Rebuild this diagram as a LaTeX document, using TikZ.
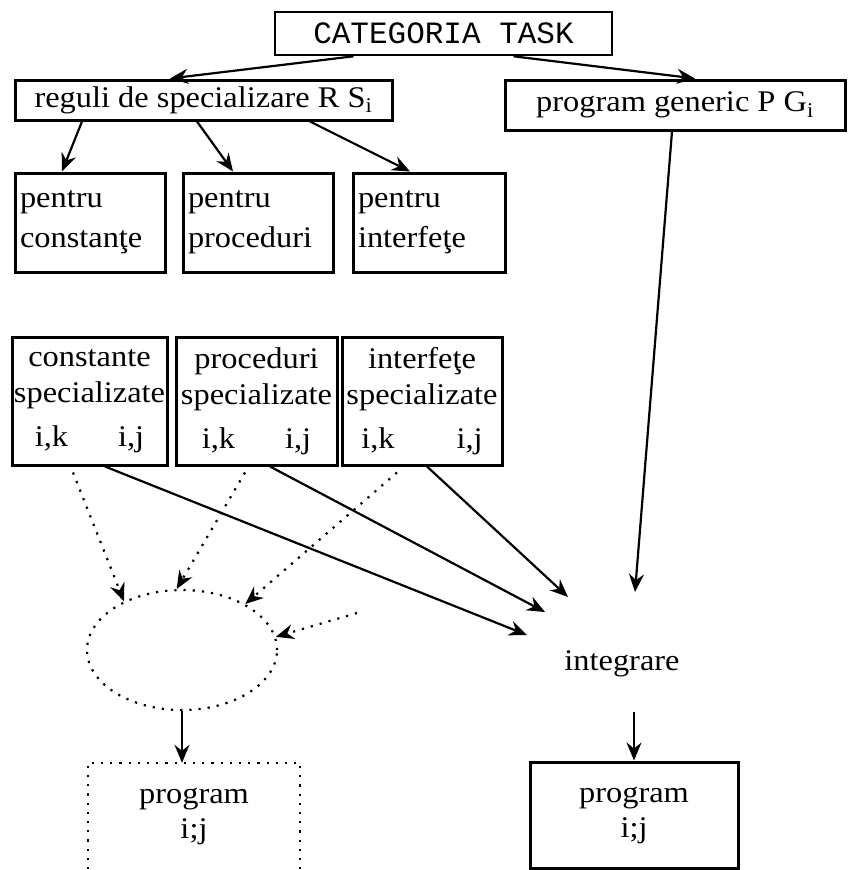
\documentclass[tikz,border=0pt]{standalone}
\usepackage{fontspec}
\setmainfont{Liberation Serif}[FakeStretch=1.08]
\setmonofont{Liberation Mono}
\usetikzlibrary{arrows.meta,shapes.geometric}
\begin{document}
\begin{tikzpicture}[x=1pt,y=-1pt,
  every node/.style={font=\fontsize{30}{36}\selectfont},
  box/.style={draw,line width=3pt,inner sep=0pt},
  arr/.style={line width=2.2pt,-{Stealth[length=18pt,width=15pt,inset=6pt]}},
  dotline/.style={line width=2.2pt,dash pattern=on 2.2pt off 7pt},
  darr/.style={dotline,-{Stealth[length=18pt,width=15pt,inset=6pt]}},
  lbox/.style={box,text width=140pt,inner xsep=5pt,minimum height=99pt,align=left,font=\fontsize{30}{40}\selectfont},
  sbox/.style={box,inner xsep=1pt,minimum height=128pt,align=center,font=\fontsize{30}{36}\selectfont}
]
\useasboundingbox (0,0) rectangle (852,870);

% top
\node[box,line width=2.6pt,minimum width=337pt,minimum height=43pt,font=\ttfamily\fontsize{31}{34}\selectfont] (cat) at (443.5,33.5) {CATEGORIA TASK};
\node[box,minimum width=377pt,minimum height=40pt] (reg) at (203.5,100) {reguli de specializare R S\textsubscript{i}};
\node[box,minimum width=340pt,minimum height=50pt] (pg) at (675,105) {program generic P G\textsubscript{i}};

% pentru boxes
\node[lbox] (p1) at (90,222.5) {pentru\\constanţe};
\node[lbox] (p2) at (258,222.5) {pentru\\proceduri};
\node[lbox,text width=142pt] (p3) at (429,222.5) {pentru\\interfeţe};

% specialised boxes
\node[sbox,minimum width=155pt] (s1) at (89.5,401) {constante\\specializate\\[8pt]i,k\hspace{50pt}i,j};
\node[sbox,minimum width=161pt] (s2) at (256.5,401) {proceduri\\specializate\\[8pt]i,k\hspace{50pt}i,j};
\node[sbox,minimum width=160pt] (s3) at (422,401) {interfeţe\\specializate\\[8pt]i,k\hspace{62pt}i,j};

% ellipse and integrare
\node[ellipse,draw,dotline,minimum width=190pt,minimum height=120pt,inner sep=0pt] (ell) at (182,650) {};
\node[anchor=base] (integ) at (622,670) {integrare};

% result boxes
\node[minimum width=212pt,minimum height=106pt,inner sep=0pt,align=center,font=\fontsize{30}{35}\selectfont] (q1) at (194,816) {program\\i;j};
\draw[dotline] (q1.south west) |- (q1.north east) -- (q1.south east);
\node[box,minimum width=208pt,minimum height=106pt,align=center,font=\fontsize{30}{35}\selectfont] (q2) at (634,815) {program\\i;j};

% free ends
\coordinate (ta) at (635,592);
\coordinate (tb) at (568,597);
\coordinate (tc) at (545,612);
\coordinate (td) at (527,635);
\coordinate (fs) at (357,613);

% connectors
\draw[arr] ([xshift=-90pt]cat.south) -- ([xshift=-33.5pt]reg.north);
\draw[arr] ([xshift=70pt]cat.south) -- ([xshift=20pt]pg.north);
\draw[arr] ([xshift=-121.5pt]reg.south) -- ([xshift=-28pt]p1.north);
\draw[arr] ([xshift=-6.5pt]reg.south) -- ([xshift=-25pt]p2.north);
\draw[arr] ([xshift=106.5pt]reg.south) -- ([xshift=-19pt]p3.north);
\draw[arr] ([xshift=-3pt]pg.south) -- (ta);
\draw[arr] ([xshift=15.5pt]s1.south) -- (td);
\draw[arr] ([xshift=13.5pt]s2.south) -- (tc);
\draw[arr] ([xshift=5pt]s3.south) -- (tb);
\draw[darr] ([xshift=-16.5pt,yshift=-6pt]s1.south) -- (ell.140);
\draw[darr] ([xshift=-11.5pt,yshift=-6pt]s2.south) -- (ell.95);
\draw[darr] ([xshift=-25pt,yshift=-6pt]s3.south) -- (ell.36);
\draw[darr] (fs) -- (ell.8);
\draw[arr] (ell.south) -- (ell.south |- q1.north);
\draw[arr] ([xshift=12pt,yshift=-42pt]integ.base) -- (q2.north);
\end{tikzpicture}
\end{document}
